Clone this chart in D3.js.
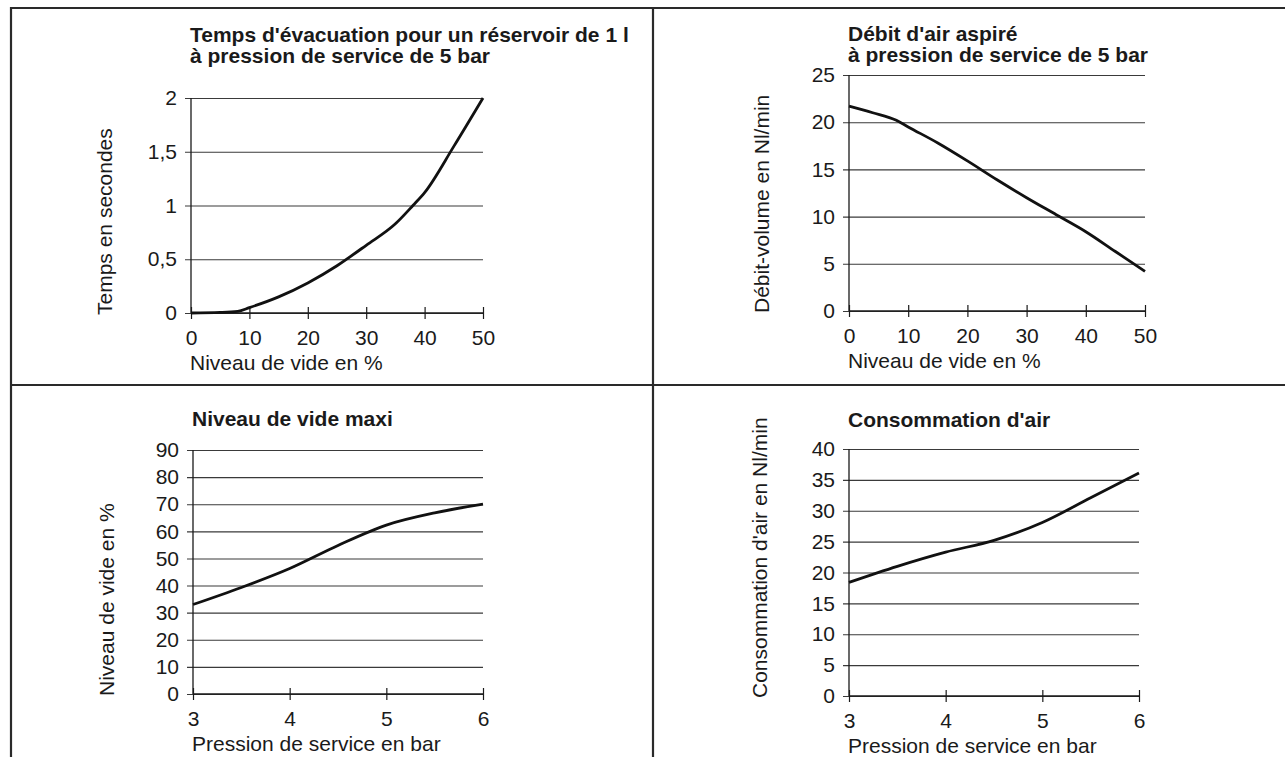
<!DOCTYPE html>
<html>
<head>
<meta charset="utf-8">
<script src="https://cdn.jsdelivr.net/npm/d3@7"></script>
<style>
  html, body { margin: 0; padding: 0; background: #fff; }
  svg { display: block; }
  text { font-family: "Liberation Sans", Arial, Helvetica, sans-serif; fill: #1a1a1a; }
</style>
</head>
<body>
<svg id="chart" width="1285" height="757"></svg>
<script>
// ---- Data ----
// Panel 1: Temps d'évacuation
const evacVide = [0, 5, 8, 10, 15, 20, 25, 30, 35, 38, 40, 45, 50];
const evacTemps = [0, 0.005, 0.015, 0.05, 0.15, 0.28, 0.44, 0.63, 0.83, 1.0, 1.12, 1.55, 2.0];
const evacYTicks = [0, 0.5, 1, 1.5, 2];
const evacYLabels = ["0", "0,5", "1", "1,5", "2"];
const videXTicks = [0, 10, 20, 30, 40, 50];

// Panel 2: Débit d'air aspiré
const debitVide = [0, 4, 8, 10, 15, 20, 25, 30, 35, 40, 45, 50];
const debitVolume = [21.7, 21.0, 20.2, 19.5, 17.8, 15.9, 13.9, 12.0, 10.2, 8.4, 6.3, 4.2];
const debitYTicks = [0, 5, 10, 15, 20, 25];

// Panel 3: Niveau de vide maxi
const maxiPression = [3, 3.5, 4, 4.5, 5, 5.5, 6];
const maxiVide = [33, 39.3, 46.3, 54.8, 62.3, 66.8, 70];
const maxiYTicks = [0, 10, 20, 30, 40, 50, 60, 70, 80, 90];

// Panel 4: Consommation d'air
const consoPression = [3, 3.5, 4, 4.5, 5, 5.5, 6];
const consoAir = [18.4, 21.0, 23.3, 25.2, 28.1, 32.1, 36.1];
const consoYTicks = [0, 5, 10, 15, 20, 25, 30, 35, 40];
const pressionXTicks = [3, 4, 5, 6];

// ---- Panel layout ----
const panels = [
  { xs: evacVide, ys: evacTemps, xDom: [0, 50], yDom: [0, 2], xTicks: videXTicks, yTicks: evacYTicks, yLabels: evacYLabels,
    x0: 191, x1: 483, y0: 313, y1: 98,
    title: ["Temps d'évacuation pour un réservoir de 1 l", "à pression de service de 5 bar"], titleY: 42,
    xTitle: "Niveau de vide en %", yTitle: "Temps en secondes", yTitleX: 112 },
  { xs: debitVide, ys: debitVolume, xDom: [0, 50], yDom: [0, 25], xTicks: videXTicks, yTicks: debitYTicks,
    x0: 849, x1: 1145, y0: 311, y1: 75,
    title: ["Débit d'air aspiré", "à pression de service de 5 bar"], titleY: 41,
    xTitle: "Niveau de vide en %", yTitle: "Débit-volume en Nl/min", yTitleX: 769 },
  { xs: maxiPression, ys: maxiVide, xDom: [3, 6], yDom: [0, 90], xTicks: pressionXTicks, yTicks: maxiYTicks,
    x0: 193, x1: 483, y0: 694, y1: 450,
    title: ["Niveau de vide maxi"], titleY: 426,
    xTitle: "Pression de service en bar", yTitle: "Niveau de vide en %", yTitleX: 114 },
  { xs: consoPression, ys: consoAir, xDom: [3, 6], yDom: [0, 40], xTicks: pressionXTicks, yTicks: consoYTicks,
    x0: 849, x1: 1139, y0: 696, y1: 449,
    title: ["Consommation d'air"], titleY: 427,
    xTitle: "Pression de service en bar", yTitle: "Consommation d'air en Nl/min", yTitleX: 767 }
];

const FS = 21;
const svg = d3.select("#chart");
const frame = svg.append("g").attr("stroke", "#2a2a2a").attr("stroke-width", 2.2).attr("fill", "none");
frame.append("line").attr("x1", 11).attr("x2", 11).attr("y1", 7).attr("y2", 757);
frame.append("line").attr("x1", 10).attr("x2", 1285).attr("y1", 8).attr("y2", 8);
frame.append("line").attr("x1", 653).attr("x2", 653).attr("y1", 7).attr("y2", 757);
frame.append("line").attr("x1", 10).attr("x2", 1285).attr("y1", 385).attr("y2", 385);

panels.forEach(p => {
  const g = svg.append("g");
  const x = d3.scaleLinear().domain(p.xDom).range([p.x0, p.x1]);
  const y = d3.scaleLinear().domain(p.yDom).range([p.y0, p.y1]);

  // gridlines + y ticks
  const yAxis = d3.axisLeft(y).tickValues(p.yTicks).tickSize(-(p.x1 - p.x0) - 6).tickPadding(8)
    .tickFormat((d, i) => p.yLabels ? p.yLabels[i] : String(d));
  const ya = g.append("g").attr("transform", `translate(${p.x0 - 6},0)`).call(yAxis);
  ya.select(".domain").remove();
  ya.selectAll(".tick line").attr("stroke", "#3a3a3a").attr("stroke-width", 1.1);
  ya.selectAll(".tick text").attr("font-size", FS).attr("fill", "#1a1a1a")
    .attr("font-family", '"Liberation Sans", Arial, sans-serif');

  // y axis vertical line
  g.append("line").attr("x1", p.x0).attr("x2", p.x0).attr("y1", y(p.yDom[1])).attr("y2", y(p.yDom[0]))
    .attr("stroke", "#1a1a1a").attr("stroke-width", 1.3);

  // x axis with ticks crossing
  const xAxis = d3.axisBottom(x).tickValues(p.xTicks).tickSize(5).tickPadding(12).tickFormat(d => String(d));
  const xa = g.append("g").attr("transform", `translate(0,${p.y0})`).call(xAxis);
  xa.select(".domain").attr("stroke", "#1a1a1a").attr("stroke-width", 1.3).attr("d", `M${p.x0},0H${p.x1}`);
  xa.selectAll(".tick line").attr("y1", -6).attr("y2", 6).attr("stroke", "#1a1a1a").attr("stroke-width", 1.2);
  xa.selectAll(".tick text").attr("font-size", FS).attr("fill", "#1a1a1a")
    .attr("font-family", '"Liberation Sans", Arial, sans-serif');

  // curve
  const line = d3.line().x((d, i) => x(p.xs[i])).y((d, i) => y(p.ys[i])).curve(d3.curveMonotoneX);
  g.append("path").datum(p.xs).attr("d", line).attr("fill", "none")
    .attr("stroke", "#111").attr("stroke-width", 2.8).attr("stroke-linejoin", "round");

  // titles
  p.title.forEach((t, i) => {
    g.append("text").attr("x", p.x0 - 1).attr("y", p.titleY + i * 20.5).attr("font-size", 21)
      .attr("font-weight", "bold").text(t);
  });
  g.append("text").attr("x", p.x0 - 1).attr("y", p.y0 + 57).attr("font-size", FS).text(p.xTitle);
  g.append("text").attr("transform", `translate(${p.yTitleX},${p.y0 + 2}) rotate(-90)`)
    .attr("text-anchor", "start").attr("font-size", FS).text(p.yTitle);
});
</script>
</body>
</html>
